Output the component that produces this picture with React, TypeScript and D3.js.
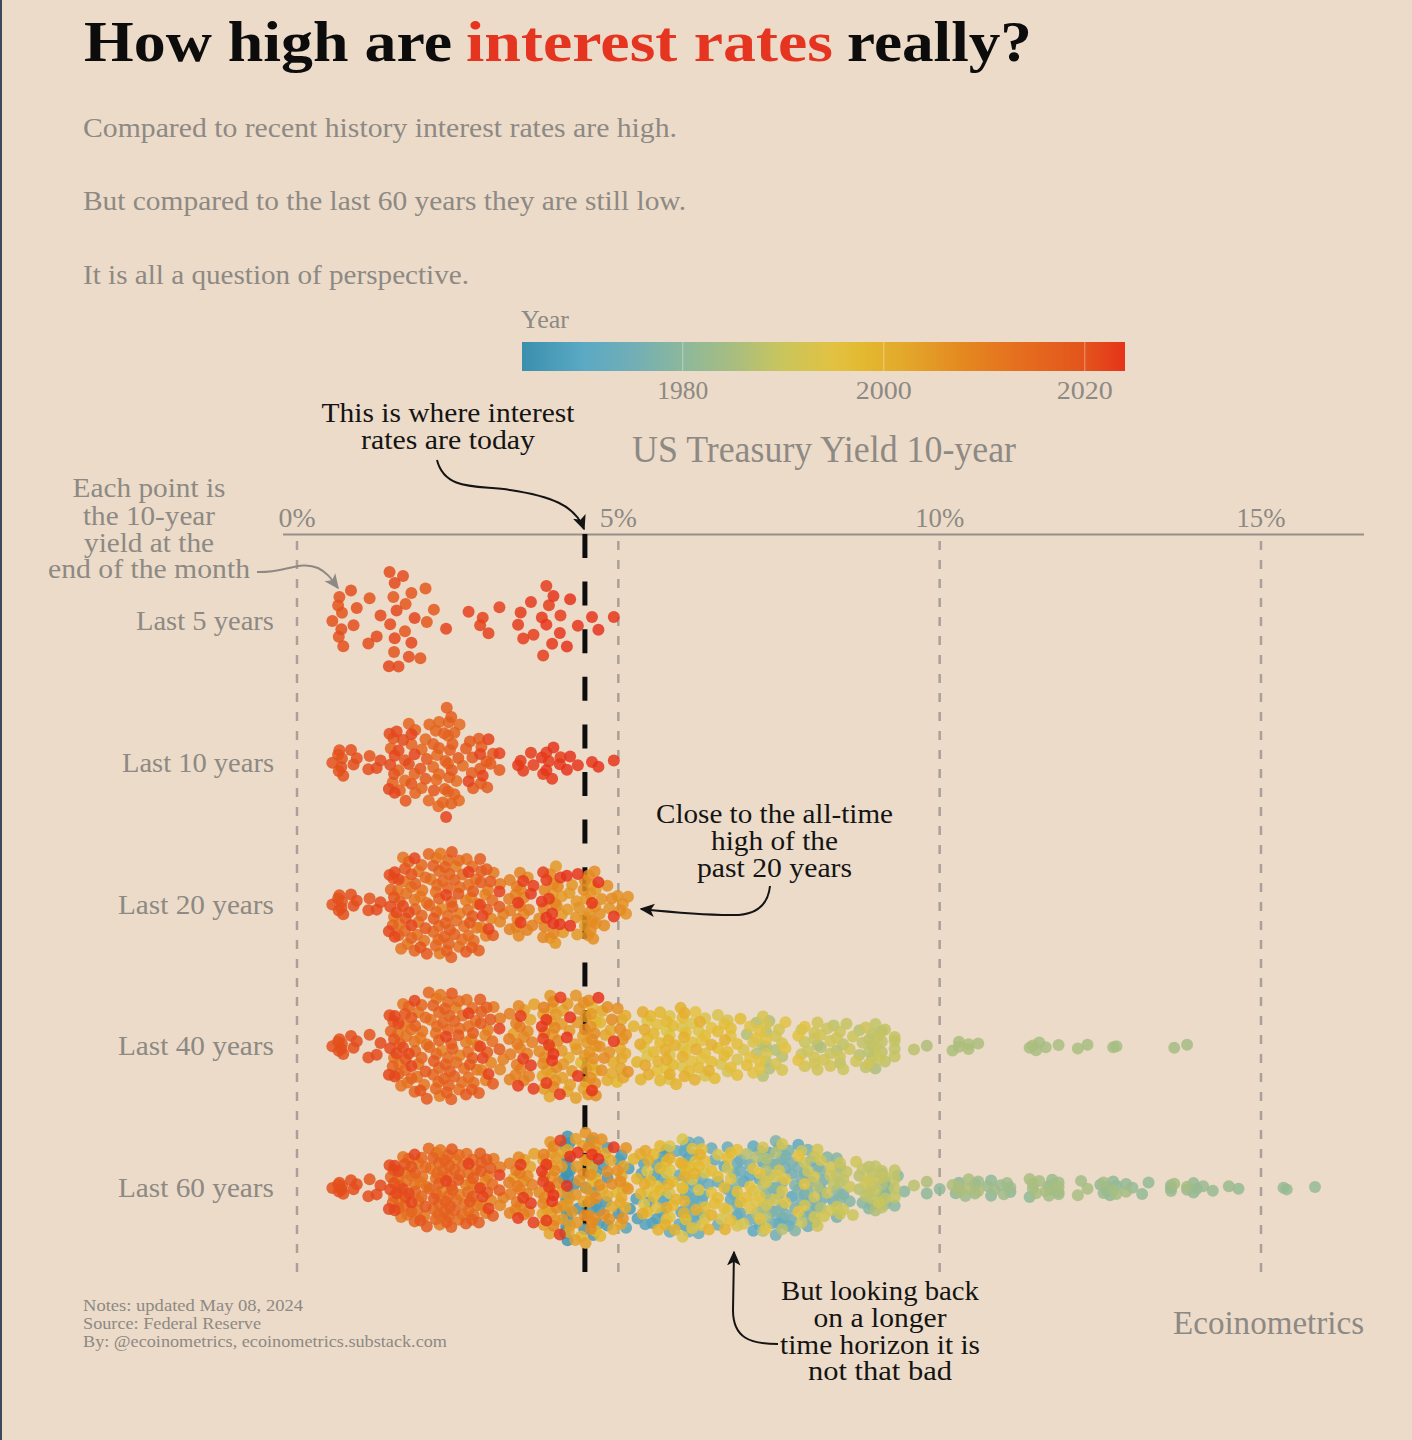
import React from "react";
import * as d3 from "d3";

// Month-end US 10-year Treasury yield (%), May 1964 – Apr 2024, oldest first
const yields1960s = [
  4.20,4.17,4.19,4.19,4.19,4.17,4.15,4.21,
  4.22,4.24,4.20,4.21,4.21,4.21,4.21,4.25,4.32,4.38,4.47,4.65,
  4.61,4.83,4.62,4.66,4.83,4.81,5.00,5.18,5.01,4.76,4.68,4.60,
  4.58,4.71,4.49,4.62,4.83,5.05,5.16,5.28,5.30,5.48,5.75,5.70,
  5.53,5.56,5.70,5.60,5.68,5.36,5.12,5.40,5.42,5.60,5.70,6.03,
  6.04,6.19,6.10,5.98,6.32,6.27,6.65,6.95,7.35,6.85,7.20,7.65,
];
const yields1970s = [
  7.80,7.10,7.20,7.70,7.90,7.55,7.25,7.50,7.10,7.05,6.20,6.50,
  6.05,6.10,5.75,6.15,6.10,6.55,6.75,6.15,5.95,5.80,5.90,5.95,
  6.10,6.05,6.25,6.25,6.10,6.15,6.10,6.30,6.45,6.25,6.30,6.40,
  6.55,6.70,6.80,6.70,6.90,6.90,7.40,7.20,6.80,6.85,6.85,6.90,
  7.05,7.05,7.55,7.95,7.70,7.70,8.10,8.35,8.00,7.55,7.60,7.40,
  7.45,7.40,8.00,8.20,8.00,7.90,8.20,8.40,8.50,7.95,8.15,7.75,
  7.70,7.85,7.80,7.80,8.10,7.90,7.85,7.65,7.60,7.60,7.25,6.85,
  7.45,7.55,7.50,7.50,7.45,7.30,7.45,7.40,7.45,7.75,7.75,7.95,
  8.00,8.05,8.15,8.25,8.40,8.60,8.45,8.40,8.45,8.90,8.80,9.15,
  9.15,9.20,9.10,9.35,9.10,8.95,9.15,9.30,9.45,10.55,10.25,10.30,
];
const yields1980s = [
  11.10,12.60,12.75,10.80,10.00,9.80,10.80,11.40,11.70,12.65,12.70,12.50,
  12.60,13.15,12.90,13.95,13.25,13.95,14.65,15.35,15.84,15.40,13.00,14.00,
  14.25,14.10,13.85,13.60,13.60,14.50,13.60,12.55,11.75,10.95,10.75,10.55,
  11.05,10.60,10.85,10.40,11.00,11.10,11.85,11.85,11.45,11.75,11.70,11.85,
  11.75,12.20,12.55,12.90,13.85,13.65,12.75,12.70,12.30,11.65,11.55,11.50,
  11.40,12.15,11.85,11.45,10.45,10.30,10.60,10.30,10.45,10.20,9.80,9.00,
  9.10,8.15,7.35,7.35,8.10,7.30,7.30,7.00,7.45,7.30,7.15,7.25,
  7.15,7.25,7.55,8.40,8.75,8.45,8.75,8.95,9.60,8.90,8.95,8.85,
  8.35,8.50,8.95,9.10,9.15,8.90,9.30,9.30,9.00,8.80,9.10,9.15,
  9.00,9.30,9.30,9.05,8.55,8.05,7.85,8.30,8.25,7.90,7.85,7.95,
];
const yields1990s = [
  8.45,8.50,8.65,9.05,8.60,8.45,8.40,8.90,8.85,8.70,8.30,8.10,
  8.05,8.05,8.15,8.05,8.10,8.30,8.20,7.90,7.45,7.50,7.45,6.70,
  7.30,7.25,7.55,7.55,7.30,7.10,6.55,6.60,6.35,6.85,6.95,6.70,
  6.35,6.00,6.00,6.00,6.15,5.80,5.80,5.45,5.40,5.45,5.80,5.80,
  5.75,6.25,6.75,7.05,7.15,7.30,7.10,7.20,7.60,7.80,7.90,7.80,
  7.60,7.20,7.20,7.05,6.30,6.20,6.45,6.30,6.15,6.05,5.75,5.60,
  5.60,6.15,6.35,6.65,6.85,6.75,6.85,7.00,6.75,6.35,6.05,6.45,
  6.55,6.55,6.90,6.70,6.65,6.50,6.00,6.25,6.10,5.85,5.85,5.75,
  5.55,5.65,5.65,5.65,5.55,5.45,5.50,4.98,4.42,4.60,4.72,4.65,
  4.65,5.29,5.24,5.35,5.62,5.78,5.90,5.97,5.88,6.02,6.19,6.45,
];
const yields2000s = [
  6.66,6.41,6.00,6.21,6.27,6.03,6.03,5.73,5.80,5.75,5.47,5.11,
  5.11,4.90,4.92,5.34,5.38,5.41,5.05,4.83,4.59,4.23,4.75,5.05,
  5.03,4.88,5.42,5.08,5.04,4.80,4.46,4.14,3.63,3.93,4.21,3.82,
  3.96,3.69,3.83,3.89,3.37,3.54,4.49,4.45,3.96,4.33,4.34,4.25,
  4.13,3.97,3.84,4.51,4.65,4.58,4.48,4.12,4.12,4.03,4.35,4.24,
  4.14,4.36,4.50,4.21,3.98,3.94,4.28,4.02,4.34,4.57,4.49,4.39,
  4.53,4.55,4.86,5.07,5.12,5.15,4.99,4.74,4.64,4.61,4.46,4.71,
  4.83,4.57,4.65,4.63,4.90,5.03,4.78,4.54,4.59,4.48,3.94,4.04,
  3.59,3.53,3.45,3.77,4.06,3.99,3.99,3.83,3.85,4.01,2.93,2.25,
  2.87,3.02,2.71,3.16,3.47,3.53,3.48,3.40,3.31,3.41,3.21,3.85,
];
const yields2010s = [
  3.58,3.61,3.84,3.66,3.31,2.97,2.94,2.47,2.53,2.63,2.81,3.30,
  3.42,3.43,3.47,3.32,3.06,3.16,2.80,2.22,1.92,2.17,2.08,1.89,
  1.83,1.98,2.23,1.95,1.59,1.67,1.51,1.57,1.65,1.72,1.62,1.78,
  2.02,1.89,1.87,1.70,2.16,2.52,2.60,2.78,2.64,2.57,2.75,3.04,
  2.67,2.66,2.73,2.67,2.48,2.53,2.58,2.35,2.52,2.35,2.18,2.17,
  1.68,2.00,1.94,2.05,2.12,2.35,2.20,2.21,2.06,2.16,2.21,2.27,
  1.94,1.74,1.78,1.83,1.84,1.49,1.46,1.58,1.60,1.84,2.37,2.45,
  2.45,2.36,2.40,2.29,2.21,2.31,2.30,2.12,2.33,2.38,2.42,2.40,
  2.72,2.87,2.74,2.95,2.83,2.85,2.96,2.86,3.05,3.15,3.01,2.69,
  2.63,2.73,2.41,2.51,2.13,2.00,2.02,1.50,1.68,1.69,1.78,1.92,
];
const yields2020s = [
  1.51,1.13,0.70,0.64,0.65,0.66,0.55,0.72,0.69,0.88,0.84,0.93,
  1.11,1.44,1.74,1.65,1.58,1.45,1.24,1.30,1.52,1.55,1.43,1.52,
  1.78,1.83,2.32,2.89,2.85,2.98,2.67,3.15,3.83,4.10,3.68,3.88,
  3.52,3.92,3.48,3.44,3.64,3.81,3.97,4.09,4.59,4.93,4.37,3.88,
  3.99,4.25,4.20,4.69,
];

const rowYears = [5, 10, 20, 40, 60];
const rowLabels = ["Last 5 years", "Last 10 years", "Last 20 years", "Last 40 years", "Last 60 years"];
const xTicks = [0, 5, 10, 15];
const legendTicks = [1980, 2000, 2020];
const todayYield = 4.48;
const colorYears = [1964, 1970, 1975, 1980, 1985, 1990, 1995, 1998, 2002, 2008, 2014, 2020, 2024];
const colorValues = ["#3a8fad", "#5aa9c4", "#72aeb6", "#8cb89c", "#a8bd80", "#cac55c", "#e2c242", "#e2b92f", "#e3a82b", "#e4881f", "#e56c1f", "#e3541c", "#e6331a"];

const FONT = "'Liberation Serif', serif";
const BG = "#ecdbc8";
const GREY = "#8d8984";
const INK = "#141414";

const allYields = [...yields1960s, ...yields1970s, ...yields1980s, ...yields1990s, ...yields2000s, ...yields2010s, ...yields2020s];
const x = d3.scaleLinear().domain([0, 15]).range([297, 1261]);
const yearX = d3.scaleLinear().domain([1964, 2024]).range([522, 1125]);
const color = d3.scaleLinear<string>().domain(colorYears).range(colorValues).interpolate(d3.interpolateRgb);
const rowY = d3.scalePoint<number>().domain(rowYears).range([621, 1188]);
const HALF = 56;
const R = 6;

function vdc(n: number) {
  let v = 0, f = 0.5;
  while (n > 0) { v += f * (n % 2); n = Math.floor(n / 2); f /= 2; }
  return v;
}

// quasirandom swarm: the offset follows the value's rank and the group's density
function swarm(values: number[], startIndex: number) {
  const sorted = [...values].sort(d3.ascending);
  const sd = d3.deviation(values) as number;
  const iqr = (d3.quantileSorted(sorted, 0.75) as number) - (d3.quantileSorted(sorted, 0.25) as number);
  const bw = 0.9 * Math.min(sd, iqr / 1.34) * Math.pow(values.length, -0.2) * 0.5;
  const dens = (v: number) => d3.sum(values, (u) => Math.exp(-0.5 * ((v - u) / bw) ** 2));
  const ds = values.map(dens);
  const maxD = d3.max(ds) as number;
  const order = d3.range(values.length).sort((a, b) => values[a] - values[b] || a - b);
  const rank = new Array(values.length);
  order.forEach((idx, r) => { rank[idx] = r + 1; });
  return values.map((v, i) => ({
    value: v,
    year: 1964 + (startIndex + i + 4) / 12,
    off: (vdc(rank[i]) - 0.5) * 2 * (ds[i] / maxD) * HALF,
  }));
}

const rows = rowYears.map((yrs, i) => {
  const start = allYields.length - yrs * 12;
  return { yrs, label: rowLabels[i], points: swarm(allYields.slice(start), start) };
});

function T({ x, y, w, size, fill = GREY, anchor = "start", weight = 400, children }: any) {
  return (
    <text x={x} y={y} fontSize={size} fill={fill} textAnchor={anchor} fontWeight={weight} fontFamily={FONT}
      textLength={w} lengthAdjust="spacingAndGlyphs">{children}</text>
  );
}

export default function App() {
  return (
    <svg width={1412} height={1440} style={{ position: "absolute", left: 0, top: 0, display: "block" }}>
      <defs>
        <linearGradient id="yearGrad" x1="0" x2="1" y1="0" y2="0">
          {colorYears.map((yr, i) => (
            <stop key={yr} offset={(yr - 1964) / 60} stopColor={colorValues[i]} />
          ))}
        </linearGradient>
        <marker id="headBlack" viewBox="0 0 10 10" refX="9" refY="5" markerWidth="15" markerHeight="15" markerUnits="userSpaceOnUse" orient="auto">
          <path d="M0,0.5 L10,5 L0,9.5 L2.5,5 Z" fill={INK} />
        </marker>
        <marker id="headGrey" viewBox="0 0 10 10" refX="9" refY="5" markerWidth="15" markerHeight="15" markerUnits="userSpaceOnUse" orient="auto">
          <path d="M0,0.5 L10,5 L0,9.5 L2.5,5 Z" fill={GREY} />
        </marker>
      </defs>
      <rect width={1412} height={1440} fill={BG} />
      <rect width={2} height={1440} fill="#3b4a5a" />

      <T x={84} y={61} size={56} w={368} fill="#0c0c0c" weight={700}>How high are</T>
      <T x={466} y={61} size={56} w={367} fill="#e5341f" weight={700}>interest rates</T>
      <T x={847} y={61} size={56} w={185} fill="#0c0c0c" weight={700}>really?</T>

      <T x={83} y={137} size={28} w={594}>Compared to recent history interest rates are high.</T>
      <T x={83} y={210} size={28} w={603}>But compared to the last 60 years they are still low.</T>
      <T x={83} y={284} size={28} w={386}>It is all a question of perspective.</T>

      <T x={521} y={328} size={26} w={48}>Year</T>
      <rect x={yearX(1964)} y={342} width={yearX(2024) - yearX(1964)} height={29} fill="url(#yearGrad)" />
      {legendTicks.map((yr) => (
        <g key={yr}>
          <line x1={yearX(yr)} x2={yearX(yr)} y1={342} y2={371} stroke="#fff" strokeOpacity={0.4} strokeWidth={1} />
          <T x={yearX(yr)} y={399} size={25} w={yr === 1980 ? 51 : 56} anchor="middle">{yr}</T>
        </g>
      ))}
      <T x={632} y={462} size={37} w={384}>US Treasury Yield 10-year</T>

      <T x={448} y={422} size={28} w={253} fill={INK} anchor="middle">This is where interest</T>
      <T x={448} y={449} size={28} w={174} fill={INK} anchor="middle">rates are today</T>
      <T x={149} y={497} size={28} w={153} anchor="middle">Each point is</T>
      <T x={149} y={525} size={28} w={132} anchor="middle">the 10-year</T>
      <T x={149} y={552} size={28} w={130} anchor="middle">yield at the</T>
      <T x={149} y={578} size={28} w={202} anchor="middle">end of the month</T>

      {xTicks.map((t) => (
        <g key={t}>
          <line x1={x(t)} x2={x(t)} y1={541} y2={1272} stroke="#a9a199" strokeWidth={2.5} strokeDasharray="9 10" />
          <T x={x(t)} y={527} size={28} w={t < 10 ? 37 : 49} anchor="middle">{`${t}%`}</T>
        </g>
      ))}
      <line x1={283} x2={1364} y1={534.5} y2={534.5} stroke="#96908a" strokeWidth={2} />
      <line x1={x(todayYield)} x2={x(todayYield)} y1={534} y2={1272} stroke="#0d0d0d" strokeWidth={5} strokeDasharray="24 23.6" />

      {rows.map((row) => (
        <g key={row.yrs}>
          <T x={274} y={rowY(row.yrs)! + 9} size={28} w={row.yrs === 5 ? 138 : row.yrs === 10 ? 152 : 156} anchor="end">{row.label}</T>
          {row.points.map((p, i) => (
            <circle key={i} cx={x(p.value)} cy={rowY(row.yrs)! + p.off} r={R} fill={color(p.year)} fillOpacity={0.84} />
          ))}
        </g>
      ))}

      <path d="M437,460 C445,492 480,485 510,490 C550,496 575,505 584,529" fill="none" stroke={INK} strokeWidth={2} markerEnd="url(#headBlack)" />
      <path d="M257,572 C285,573 300,560 318,568 C328,573 332,580 338,588" fill="none" stroke={GREY} strokeWidth={2} markerEnd="url(#headGrey)" />
      <path d="M770,886 C768,906 755,916 730,915 C700,915 670,912 641,909" fill="none" stroke={INK} strokeWidth={2} markerEnd="url(#headBlack)" />
      <path d="M778,1344 C750,1344 733,1338 733,1310 L734,1252" fill="none" stroke={INK} strokeWidth={2} markerEnd="url(#headBlack)" />

      <T x={774.5} y={823} size={28} w={237} fill={INK} anchor="middle">Close to the all-time</T>
      <T x={774.5} y={850} size={28} w={127} fill={INK} anchor="middle">high of the</T>
      <T x={774.5} y={877} size={28} w={155} fill={INK} anchor="middle">past 20 years</T>

      <T x={880} y={1300} size={28} w={198} fill={INK} anchor="middle">But looking back</T>
      <T x={880} y={1327} size={28} w={133} fill={INK} anchor="middle">on a longer</T>
      <T x={880} y={1354} size={28} w={200} fill={INK} anchor="middle">time horizon it is</T>
      <T x={880} y={1380} size={28} w={144} fill={INK} anchor="middle">not that bad</T>

      <T x={83} y={1311} size={17} w={220}>Notes: updated May 08, 2024</T>
      <T x={83} y={1329} size={17} w={178}>Source: Federal Reserve</T>
      <T x={83} y={1347} size={17} w={364}>By: @ecoinometrics, ecoinometrics.substack.com</T>
      <T x={1173} y={1334} size={33} w={191}>Ecoinometrics</T>
    </svg>
  );
}
